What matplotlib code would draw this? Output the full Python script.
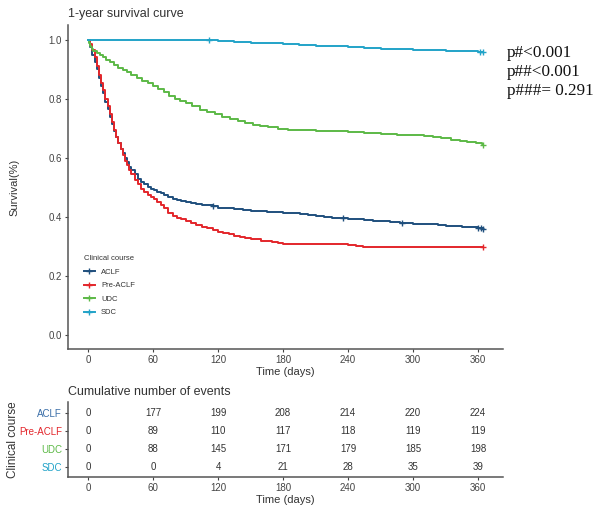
import matplotlib
matplotlib.use("Agg")
import matplotlib.pyplot as plt
from matplotlib.lines import Line2D
import numpy as np

groups = ["ACLF", "Pre-ACLF", "UDC", "SDC"]
colors = {"ACLF": "#1f4f7d", "Pre-ACLF": "#e3262b", "UDC": "#5cb946", "SDC": "#22a3c8"}

aclf_t = [0, 2, 4, 6, 8, 10, 12, 14, 16, 18, 20, 22, 24, 26, 28, 30, 32, 34, 36, 38, 40, 43, 46, 49, 52, 55,
          58, 61, 64, 67, 70, 74, 78, 82, 86, 90, 95, 100, 105, 110, 115, 120, 128, 135, 143, 150, 158, 165,
          172, 180, 188, 196, 203, 210, 218, 225, 232, 240, 248, 255, 263, 270, 279, 288, 294, 300, 308, 315,
          323, 330, 338, 345, 352, 360, 365]
aclf_s = [1.0, 0.975, 0.95, 0.925, 0.90, 0.87, 0.845, 0.82, 0.79, 0.765, 0.74, 0.715, 0.69, 0.67, 0.65, 0.63,
          0.615, 0.60, 0.585, 0.57, 0.56, 0.545, 0.53, 0.52, 0.51, 0.50, 0.495, 0.49, 0.485, 0.48, 0.475,
          0.468, 0.462, 0.458, 0.455, 0.45, 0.447, 0.445, 0.442, 0.44, 0.436, 0.432, 0.43, 0.428, 0.424, 0.42,
          0.419, 0.417, 0.416, 0.414, 0.412, 0.41, 0.408, 0.405, 0.401, 0.398, 0.396, 0.393, 0.392, 0.39,
          0.388, 0.385, 0.382, 0.38, 0.378, 0.377, 0.376, 0.375, 0.372, 0.37, 0.368, 0.366, 0.365, 0.363, 0.36]

pre_t = [0, 2, 4, 6, 8, 10, 12, 14, 16, 18, 20, 22, 24, 26, 28, 30, 32, 34, 36, 38, 40, 43, 46, 49, 52, 55,
         58, 61, 64, 67, 70, 74, 78, 82, 86, 90, 95, 100, 105, 110, 115, 120, 125, 130, 135, 140, 145, 150,
         155, 160, 165, 170, 175, 180, 200, 215, 233, 240, 247, 254, 300, 365]
pre_s = [1.0, 0.985, 0.965, 0.94, 0.91, 0.88, 0.855, 0.83, 0.80, 0.775, 0.75, 0.72, 0.695, 0.67, 0.65, 0.63,
         0.61, 0.59, 0.575, 0.56, 0.545, 0.525, 0.51, 0.495, 0.485, 0.475, 0.468, 0.46, 0.45, 0.44, 0.43,
         0.415, 0.405, 0.398, 0.392, 0.388, 0.38, 0.372, 0.366, 0.362, 0.357, 0.35, 0.346, 0.342, 0.336,
         0.332, 0.33, 0.327, 0.324, 0.32, 0.318, 0.315, 0.312, 0.31, 0.31, 0.31, 0.307, 0.305, 0.302, 0.30,
         0.30, 0.297]

udc_t = [0, 1, 2, 3, 4, 5, 8, 11, 14, 17, 20, 24, 28, 32, 36, 40, 45, 50, 55, 60, 65, 70, 75, 80, 85, 90, 96,
         103, 110, 117, 124, 131, 138, 145, 152, 159, 166, 175, 185, 196, 210, 225, 240, 255, 270, 285, 300,
         310, 318, 326, 335, 343, 350, 358, 364, 365]
udc_s = [1.0, 0.99, 0.98, 0.975, 0.968, 0.962, 0.955, 0.948, 0.94, 0.933, 0.925, 0.915, 0.905, 0.897, 0.89,
         0.88, 0.872, 0.862, 0.855, 0.845, 0.835, 0.822, 0.81, 0.80, 0.792, 0.785, 0.775, 0.763, 0.755, 0.748,
         0.74, 0.733, 0.725, 0.718, 0.712, 0.707, 0.703, 0.698, 0.696, 0.694, 0.692, 0.69, 0.687, 0.684,
         0.681, 0.679, 0.677, 0.675, 0.67, 0.666, 0.66, 0.657, 0.654, 0.65, 0.647, 0.645]

sdc_t = [0, 60, 100, 120, 135, 150, 165, 180, 195, 210, 225, 240, 255, 270, 285, 300, 315, 330, 345, 360, 365]
sdc_s = [1.0, 1.0, 1.0, 0.995, 0.993, 0.99, 0.988, 0.985, 0.983, 0.98, 0.978, 0.975, 0.973, 0.97, 0.969,
         0.967, 0.965, 0.963, 0.962, 0.96, 0.96]

censor = {"ACLF": [115, 235, 290, 360, 363, 365], "Pre-ACLF": [365], "UDC": [365], "SDC": [112, 362, 365]}

table_times = [0, 60, 120, 180, 240, 300, 360]
events = {
    "ACLF": [0, 177, 199, 208, 214, 220, 224],
    "Pre-ACLF": [0, 89, 110, 117, 118, 119, 119],
    "UDC": [0, 88, 145, 171, 179, 185, 198],
    "SDC": [0, 0, 4, 21, 28, 35, 39],
}

curves = {"ACLF": (aclf_t, aclf_s), "Pre-ACLF": (pre_t, pre_s), "UDC": (udc_t, udc_s), "SDC": (sdc_t, sdc_s)}

W, H = 595, 505
fig = plt.figure(figsize=(W / 100, H / 100), dpi=100)
plt.rcParams['font.family'] = ['Liberation Sans', 'DejaVu Sans']

spine_c = "#555555"
tick_c = "#444444"
AXW = 503 - 68

ax = fig.add_axes([68 / W, 1 - 349 / H, AXW / W, (349 - 25) / H])
for g in groups:
    t, s = curves[g]
    ax.plot(t, s, drawstyle="steps-post", color=colors[g], lw=1.4)
    ct = censor[g]
    cs = [s[np.searchsorted(t, c, side="right") - 1] for c in ct]
    ax.plot(ct, cs, ls="none", marker="+", ms=4, mew=1.0, color=colors[g])

ax.set_xlim(-18.5, 383)
ax.set_ylim(-0.047, 1.05)
ax.set_xticks(table_times)
ax.set_yticks([0.0, 0.2, 0.4, 0.6, 0.8, 1.0])
ax.set_yticklabels(["0.0", "0.2", "0.4", "0.6", "0.8", "1.0"])
for sp in ["top", "right"]:
    ax.spines[sp].set_visible(False)
for sp in ["left", "bottom"]:
    ax.spines[sp].set_color(spine_c)
    ax.spines[sp].set_linewidth(1.1)
ax.tick_params(labelsize=7, colors=tick_c, length=2.5, width=0.8, pad=2)
ax.set_xlabel("Time (days)", fontsize=8, color="#333333", labelpad=1)
ax.set_ylabel("Survival(%)", fontsize=8, color="#333333")
ax.yaxis.set_label_coords((19 - 68) / AXW, 0.5)
ax.text(0.0, 1.015, "1-year survival curve", transform=ax.transAxes, fontsize=9, color="#333333",
        ha="left", va="bottom")

handles = [Line2D([0], [0], color=colors[g], lw=1.4, marker="+", ms=4) for g in groups]
leg = ax.legend(handles, groups, title="Clinical course", loc="lower left",
                bbox_to_anchor=(0.02, 0.08), frameon=False, fontsize=5.5, title_fontsize=5.5,
                handlelength=1.5, labelspacing=0.8, alignment="left")
for txt in leg.get_texts():
    txt.set_color("#333333")
leg.get_title().set_color("#333333")

ptxt = ["p#<0.001", "p##<0.001", "p###= 0.291"]
for i, p in enumerate(ptxt):
    fig.text(507 / W, 1 - (53 + i * 19) / H, p, fontsize=12.3, family="Liberation Serif",
             ha="left", va="center", color="#111111")

# risk table
tx = fig.add_axes([68 / W, 1 - 477 / H, AXW / W, (477 - 402) / H])
tx.set_xlim(-18.5, 383)
tx.set_ylim(0.44, 4.61)
ypos = {g: 4 - i for i, g in enumerate(groups)}
for g in groups:
    for t, v in zip(table_times, events[g]):
        tx.text(t, ypos[g], str(v), ha="center", va="center", fontsize=7, color="#333333")
tx.set_yticks([ypos[g] for g in groups])
tx.set_yticklabels(groups)
tx.set_xticks(table_times)
for sp in ["top", "right"]:
    tx.spines[sp].set_visible(False)
for sp in ["left", "bottom"]:
    tx.spines[sp].set_color(spine_c)
    tx.spines[sp].set_linewidth(1.1)
tx.tick_params(labelsize=7, length=2.5, width=0.8, pad=2, colors=tick_c)
for lab, g in zip(tx.get_yticklabels(), groups):
    lab.set_color(colors[g] if g != "ACLF" else "#3a6ea8")
tx.set_xlabel("Time (days)", fontsize=8, color="#333333", labelpad=1)
tx.set_ylabel("Clinical course", fontsize=8.5, color="#333333")
tx.yaxis.set_label_coords((19 - 68) / AXW, 0.5)
tx.text(0.0, 1.05, "Cumulative number of events", transform=tx.transAxes, fontsize=9,
        color="#333333", ha="left", va="bottom")

fig.savefig("out.png", dpi=100)
